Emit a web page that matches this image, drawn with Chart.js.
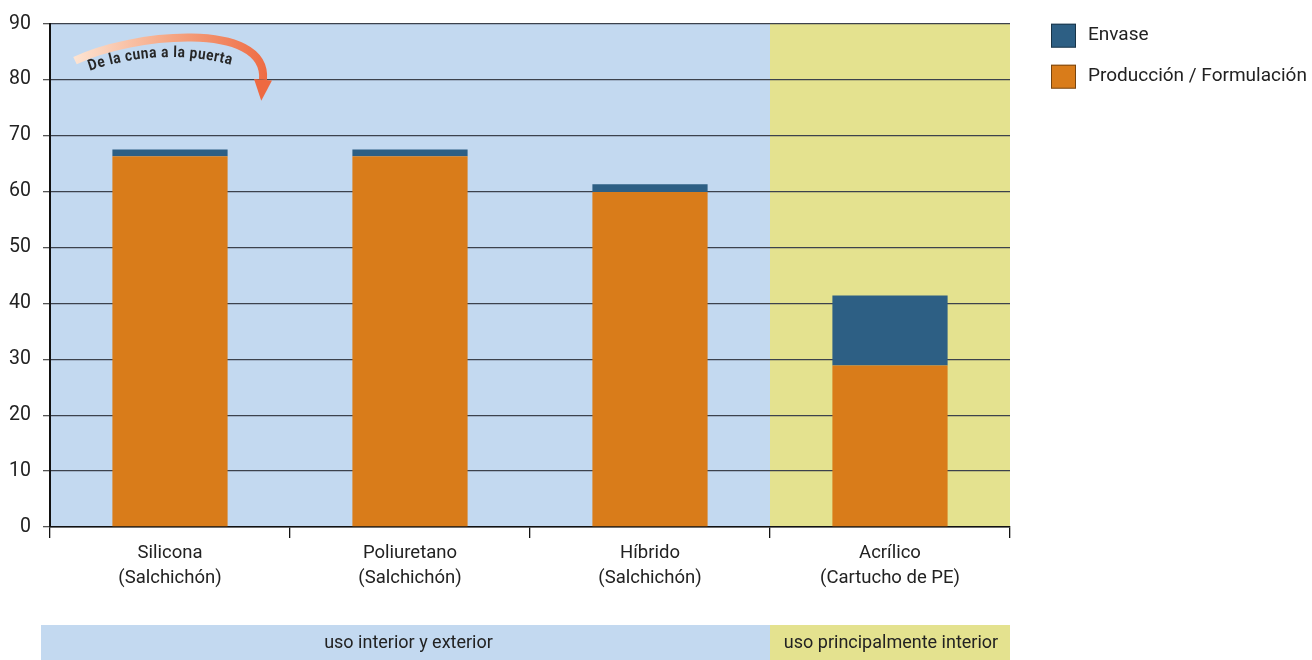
<!DOCTYPE html>
<html>
<head>
<meta charset="utf-8">
<script src="https://cdn.jsdelivr.net/npm/chart.js@4"></script>
<style>
  html, body { margin: 0; padding: 0; background: #fff; }
  #wrap { width: 1312px; height: 660px; position: relative; }
</style>
</head>
<body>
<div id="wrap"><canvas id="c" width="1312" height="660"></canvas></div>
<script>
// Categories (two-line labels)
const categories = [
  ["Silicona", "(Salchichón)"],
  ["Poliuretano", "(Salchichón)"],
  ["Híbrido", "(Salchichón)"],
  ["Acrílico", "(Cartucho de PE)"]
];
// Stacked series
const produccion = [66.3, 66.3, 59.9, 28.9];
const envase = [1.2, 1.2, 1.4, 12.5];
const seriesNames = ["Producción / Formulación", "Envase"];
// Y axis range
const yMin = 0, yMax = 90, yStep = 10;
// Usage zones (category index ranges)
const zonaEtiquetas = ["uso interior y exterior", "uso principalmente interior"];
const zonaInicio = [0, 3];
const zonaFin = [2, 3];
const anotacion = "De la cuna a la puerta";

const FONT = "'Roboto', 'Liberation Sans', sans-serif";
const C_ORANGE = '#d97c1a';
const C_BLUE = '#2d5f84';
const ZONE_COLORS = ['#c3d9f0', '#e4e28f'];
const TEXT = '#222222';

function zoneBounds(chart) {
  const x = chart.scales.x;
  const area = chart.chartArea;
  const n = categories.length;
  const edge = (i) => {
    if (i <= 0) return area.left;
    if (i >= n) return area.right;
    return (x.getPixelForValue(i - 1) + x.getPixelForValue(i)) / 2;
  };
  return zonaEtiquetas.map((_, k) => [edge(zonaInicio[k]), edge(zonaFin[k] + 1)]);
}

const zonesPlugin = {
  id: 'zones',
  beforeDraw(chart) {
    const { ctx, chartArea } = chart;
    const bounds = zoneBounds(chart);
    ctx.save();
    bounds.forEach((b, k) => {
      ctx.fillStyle = ZONE_COLORS[k];
      ctx.fillRect(b[0], chartArea.top, b[1] - b[0], chartArea.bottom - chartArea.top);
    });
    ctx.restore();
  },
  afterDraw(chart) {
    const { ctx } = chart;
    const bounds = zoneBounds(chart);
    ctx.save();
    const top = 625, h = 35;
    bounds.forEach((b, k) => {
      const left = k === 0 ? b[0] - 9 : b[0];
      ctx.fillStyle = ZONE_COLORS[k];
      ctx.fillRect(left, top, b[1] - left, h);
      ctx.fillStyle = TEXT;
      ctx.font = `18px ${FONT}`;
      ctx.textAlign = 'center';
      ctx.textBaseline = 'middle';
      ctx.fillText(zonaEtiquetas[k], (left + b[1]) / 2 + (k === 0 ? 3 : 1), top + h / 2 + 1);
    });
    ctx.restore();
  }
};

const legendPlugin = {
  id: 'sideLegend',
  afterDraw(chart) {
    const { ctx, chartArea } = chart;
    const items = chart.data.datasets.slice().reverse();
    ctx.save();
    const bx = chartArea.right + 41;
    let by = chartArea.top;
    items.forEach((ds) => {
      ctx.fillStyle = ds.backgroundColor;
      ctx.fillRect(bx, by, 25, 24);
      ctx.strokeStyle = 'rgba(0,0,0,0.45)';
      ctx.lineWidth = 1;
      ctx.strokeRect(bx + 0.5, by + 0.5, 24, 23);
      ctx.fillStyle = TEXT;
      ctx.font = `19px ${FONT}`;
      ctx.textAlign = 'left';
      ctx.textBaseline = 'middle';
      ctx.fillText(ds.label, bx + 37, by + 12);
      by += 41;
    });
    ctx.restore();
  }
};

// Curved "cradle to gate" arrow with text following the curve
const arrowPlugin = {
  id: 'cradleArrow',
  afterDatasetsDraw(chart) {
    const { ctx, chartArea } = chart;
    const ox = chartArea.left, oy = chartArea.top;
    const P0 = [ox + 25, oy + 37], P1 = [ox + 80, oy + 10], P2 = [ox + 218, oy - 4], P3 = [ox + 213, oy + 56];
    ctx.save();
    const g = ctx.createLinearGradient(P0[0], 0, P3[0] + 8, 0);
    g.addColorStop(0, '#fde3d1');
    g.addColorStop(0.5, '#f5a582');
    g.addColorStop(1, '#ee6941');
    ctx.strokeStyle = g;
    ctx.lineWidth = 8;
    ctx.lineCap = 'butt';
    ctx.beginPath();
    ctx.moveTo(P0[0], P0[1]);
    ctx.bezierCurveTo(P1[0], P1[1], P2[0], P2[1], P3[0], P3[1]);
    ctx.stroke();
    // arrow head
    const dx = P3[0] - P2[0], dy = P3[1] - P2[1];
    const len = Math.hypot(dx, dy);
    const ux = dx / len, uy = dy / len;
    const px = -uy, py = ux;
    ctx.fillStyle = '#ee6941';
    ctx.beginPath();
    ctx.moveTo(P3[0] + px * 9, P3[1] + py * 9);
    ctx.lineTo(P3[0] - px * 9, P3[1] - py * 9);
    ctx.lineTo(P3[0] + ux * 21, P3[1] + uy * 21);
    ctx.closePath();
    ctx.fill();

    // text along a quadratic baseline
    const Q0 = [ox + 40, oy + 47], Q1 = [ox + 110, oy + 23], Q2 = [ox + 181, oy + 41];
    const qp = (t) => [
      (1 - t) * (1 - t) * Q0[0] + 2 * (1 - t) * t * Q1[0] + t * t * Q2[0],
      (1 - t) * (1 - t) * Q0[1] + 2 * (1 - t) * t * Q1[1] + t * t * Q2[1]
    ];
    const N = 400;
    const pts = [], acc = [0];
    for (let i = 0; i <= N; i++) pts.push(qp(i / N));
    for (let i = 1; i <= N; i++) acc.push(acc[i - 1] + Math.hypot(pts[i][0] - pts[i - 1][0], pts[i][1] - pts[i - 1][1]));
    const total = acc[N];
    ctx.font = `bold 15.5px ${FONT}`;
    const chars = [...anotacion];
    const raw = chars.map(c => ctx.measureText(c).width);
    const rawW = raw.reduce((a, b) => a + b, 0);
    const sx = Math.min(1, (total - 0.6 * (chars.length - 1)) / rawW);
    const widths = raw.map(w => w * sx);
    const textW = widths.reduce((a, b) => a + b, 0);
    const extra = (total - textW) / (chars.length - 1);
    const at = (s) => {
      let i = 1;
      while (i < N && acc[i] < s) i++;
      const a = pts[i - 1], b = pts[i];
      return [a[0], a[1], Math.atan2(b[1] - a[1], b[0] - a[0])];
    };
    ctx.fillStyle = '#262626';
    ctx.textAlign = 'center';
    ctx.textBaseline = 'alphabetic';
    let s = 0;
    chars.forEach((c, i) => {
      const mid = s + widths[i] / 2;
      const [x, y, ang] = at(mid);
      ctx.save();
      ctx.translate(x, y);
      ctx.rotate(ang);
      ctx.scale(sx, 1);
      ctx.fillText(c, 0, 0);
      ctx.restore();
      s += widths[i] + extra;
    });
    ctx.restore();
  }
};

new Chart(document.getElementById('c'), {
  type: 'bar',
  data: {
    labels: categories,
    datasets: [
      { label: seriesNames[0], data: produccion, backgroundColor: C_ORANGE, borderWidth: 0 },
      { label: seriesNames[1], data: envase, backgroundColor: C_BLUE, borderWidth: 0 }
    ]
  },
  options: {
    responsive: false,
    animation: false,
    devicePixelRatio: 1,
    layout: { padding: { top: 22, right: 302, left: 0, bottom: 0 } },
    datasets: { bar: { barPercentage: 0.48, categoryPercentage: 1.0 } },
    plugins: { legend: { display: false }, tooltip: { enabled: false } },
    scales: {
      x: {
        stacked: true,
        afterFit(scale) { scale.height = 133; },
        grid: {
          offset: true,
          drawOnChartArea: false,
          drawTicks: true,
          tickLength: 11,
          tickColor: '#111',
          lineWidth: 1.3
        },
        border: { display: true, color: '#111', width: 1.5 },
        ticks: {
          color: TEXT,
          font: { family: FONT, size: 18.5, lineHeight: 1.4 },
          padding: 2,
          maxRotation: 0,
          autoSkip: false
        }
      },
      y: {
        stacked: true,
        min: yMin,
        max: yMax,
        afterFit(scale) { scale.width = 50; },
        ticks: {
          stepSize: yStep,
          color: TEXT,
          font: { family: FONT, size: 19.5 },
          padding: 12
        },
        grid: {
          color: '#3c424c',
          lineWidth: 1.3,
          drawTicks: true,
          tickLength: 7,
          tickColor: '#555'
        },
        border: { display: true, color: '#111', width: 2 }
      }
    }
  },
  plugins: [zonesPlugin, legendPlugin, arrowPlugin]
});
</script>
</body>
</html>
